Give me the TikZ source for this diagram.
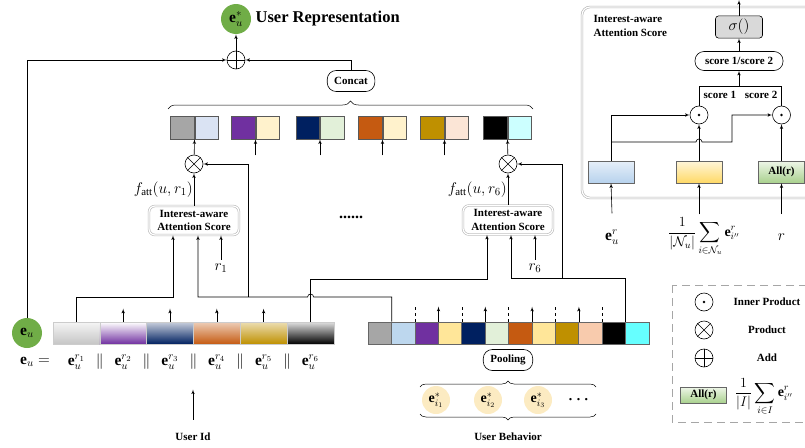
\RequirePackage{fix-cm}
\documentclass[tikz,border=0pt]{standalone}
\usepackage{amsmath}
\usepackage{fontspec}
\setmainfont{Liberation Serif}
\usetikzlibrary{shapes,arrows,decorations.pathreplacing}
\definecolor{ugreen}{HTML}{70AD47}
\definecolor{ugray}{HTML}{A6A6A6}
\definecolor{upurple}{HTML}{7030A0}
\definecolor{unavy}{HTML}{002060}
\definecolor{uorange}{HTML}{C55A11}
\definecolor{ugold}{HTML}{BF9000}
\definecolor{ltblue}{HTML}{DAE3F3}
\definecolor{ltyellow}{HTML}{FFF2CC}
\definecolor{ltgreen}{HTML}{E2F0D9}
\definecolor{ltpeach}{HTML}{FBE5D6}
\definecolor{ltcyan}{HTML}{CCFFFF}
\definecolor{bblue}{HTML}{BDD7EE}
\definecolor{byellow}{HTML}{FFE699}
\definecolor{bpeach}{HTML}{F8CBAD}
\definecolor{bcyan}{HTML}{66FFFF}
\definecolor{ucream}{HTML}{FCEBC2}
\definecolor{pblueA}{HTML}{E6EFF9}
\definecolor{pblueB}{HTML}{B7D2ED}
\definecolor{pyelA}{HTML}{FFF6DA}
\definecolor{pyelB}{HTML}{FFD966}
\definecolor{pgrnA}{HTML}{EEF6E8}
\definecolor{pgrnB}{HTML}{A9D18E}
\newcommand{\lblfont}{\fontsize{11}{13.5}\selectfont\bfseries}
\newcommand{\eqfont}{\fontsize{15.5}{18}\selectfont}
\newcommand{\frmfont}{\fontsize{14}{16.5}\selectfont}
\newcommand{\embpair}[4]{
	\node [cell, fill=#3, anchor=east] (#1a) at (#2,127.5) {};
	\node [cell, fill=#4, anchor=west] (#1b) at (#2,127.5) {};}
\newcommand{\opadd}[2]{
	\node [opnode] (#1) at (#2) {};
	\draw (#1.north) -- (#1.south) (#1.west) -- (#1.east);}
\newcommand{\opmul}[2]{
	\node [opnode] (#1) at (#2) {};
	\draw (#1.north west) -- (#1.south east) (#1.north east) -- (#1.south west);}
\newcommand{\opdot}[2]{
	\node [opnode] (#1) at (#2) {};
	\fill (#1.center) circle (1.3pt);}

\begin{document}
\begin{tikzpicture}[>=latex',x=1pt,y=-1pt,line width=0.6pt,
	cell/.style={draw=black!65, minimum width=23.5pt, minimum height=23pt, inner sep=0pt},
	seg/.style={draw=gray!40, minimum width=46.8pt, minimum height=22pt, inner sep=0pt},
	bcell/.style={draw=black!60, minimum width=23.4pt, minimum height=22pt, inner sep=0pt},
	opnode/.style={draw, circle, minimum size=18pt, inner sep=0pt},
	iabox/.style={draw=gray!55, double=white, double distance=1.2pt, rounded corners=6pt, fill=white, align=center, font=\lblfont, minimum width=90pt, minimum height=29pt, inner sep=1pt},
	pill/.style={draw, rounded corners=9pt, fill=white, font=\lblfont, minimum height=21pt, inner xsep=7pt},
	embnode/.style={circle, fill=ugreen, minimum size=30pt, inner sep=0pt, font=\eqfont},
	itemnode/.style={circle, fill=ucream, minimum size=28pt, inner sep=0pt, font=\frmfont},
	panelbox/.style={draw=black!60, minimum width=46pt, minimum height=22pt, inner sep=0pt, font=\lblfont}]
	\clip (0,0) rectangle (805,447);
	% output side
	\node [embnode] (eustar) at (236,19) {$\mathbf{e}^{*}_{u}$};
	\node [anchor=west, font=\fontsize{16.5}{19}\selectfont\bfseries] (title) at (252,19) {User Representation};
	\opadd{add}{236,60}
	\node [pill] (concat) at (351,81) {Concat};
	\draw [->] (add) -- (eustar);
	\draw [->] (concat.north) |- (add.east);
	\draw [decorate, decoration={brace, amplitude=8pt}, line width=0.5pt] (168,109) -- (533,109);
	\embpair{p1}{194.5}{ugray}{ltblue}
	\embpair{p2}{255.5}{upurple}{ltyellow}
	\embpair{p3}{320}{unavy}{ltgreen}
	\embpair{p4}{382.5}{uorange}{ltyellow}
	\embpair{p5}{444.5}{ugold}{ltpeach}
	\embpair{p6}{507.5}{black}{ltcyan}
	\foreach \p in {p2,p3,p4,p5}
		\draw [->] (\p a.south east) ++(0,16) -- (\p a.south east);
	\opmul{mul1}{194,164}
	\opmul{mul6}{508,164}
	\node [iabox] (ias1) at (194,220.5) {Interest-aware\\Attention Score};
	\node [iabox] (ias6) at (508,220) {Interest-aware\\Attention Score};
	\draw [->] (mul1) -- (p1a.south east);
	\draw [->] (mul6) -- (p6a.south east);
	\draw [->] (ias1) -- node [left, inner sep=1pt, font=\eqfont] {$f_{\mathrm{att}}(u,r_1)$} (mul1);
	\draw [->] (ias6) -- node [left, inner sep=1pt, font=\eqfont] {$f_{\mathrm{att}}(u,r_6)$} (mul6);
	\node [font=\fontsize{16}{19}\selectfont\bfseries] (skip) at (351,217) {......};
	\node [font=\eqfont] (r1) at (221,268) {$r_1$};
	\node [font=\eqfont] (r6) at (535,268) {$r_6$};
	\draw [->] (r1.north) -- (r1.north |- ias1.south);
	\draw [->] (r6.north) -- (r6.north |- ias6.south);
	% user id embedding
	\foreach \tc/\bc [count=\i] in {gray!8/gray!45, white/upurple, unavy!22/unavy, uorange!30/uorange, ugold!30/ugold, gray!25/black}
		\node [seg, top color=\tc, bottom color=\bc] (s\i) at ({76.4+(\i-1)*46.8},333) {};
	\foreach \i in {2,...,5}
		\draw [->] (s\i.north) -- ++(0,-13);
	\node [embnode] (eu) at (27,333) {$\mathbf{e}_{u}$};
	\draw [->] (eu) |- (add.west);
	\node [font=\eqfont, inner sep=0pt] (eueq) at (35,362) {$\mathbf{e}_{u}=$};
	\foreach \i in {1,...,6}
		\node [font=\eqfont, inner sep=0pt] (er\i) at ({76.4+(\i-1)*46.8},362) {$\mathbf{e}^{r_{\i}}_{u}$};
	\foreach \i in {1,...,5}
		\node [font=\eqfont, inner sep=0pt] (bar\i) at ({99.8+(\i-1)*46.8},362) {$\|$};
	\node [font=\lblfont] (uid) at (193,437) {User Id};
	\draw [->] (uid.north) ++(0,-10) -- ++(0,-30);
	% user behaviour
	\foreach \c [count=\i] in {ugray,bblue,upurple,byellow,unavy,ltgreen,uorange,byellow,ugold,bpeach,black,bcyan}
		\node [bcell, fill=\c] (b\i) at ({379.7+(\i-1)*23.4},333) {};
	\foreach \i in {2,4,...,10}
		\draw [dashed, line width=0.5pt] (b\i.north east) -- ++(0,-15);
	\foreach \i in {3,5,7,9}
		\draw [->] (b\i.north east) -- ++(0,-15);
	\node [pill] (pool) at (508,360) {Pooling};
	\draw [decorate, decoration={brace, amplitude=6pt}, line width=0.5pt] (420,387) -- (596,387);
	\draw [decorate, decoration={brace, amplitude=6pt, mirror}, line width=0.5pt] (420,414) -- (596,414);
	\foreach \px [count=\i] in {436,488,538}
		\node [itemnode] (it\i) at (\px,400) {$\mathbf{e}^{*}_{i_{\i}}$};
	\node [font=\eqfont] (itdots) at (580,400) {$\boldsymbol{\cdots}$};
	\node [font=\lblfont] (ubeh) at (508,437) {User Behavior};
	% wiring to the score boxes
	\coordinate (j1) at (173,297);
	\coordinate (j2) at (198,297);
	\coordinate (j3) at (248,297);
	\coordinate (j4) at (487,279);
	\coordinate (j5) at (511,278);
	\coordinate (j6) at (562,278);
	\draw [->] (s1.north) |- (j1) -- (j1 |- ias1.south);
	\draw [->] (b1.north east) |- (313.6,297) arc (0:-180:3) -- (j2) -- (j2 |- ias1.south);
	\draw [->] (j3) |- (mul1.east);
	\draw [->] (s6.north) |- (j4) -- (j4 |- ias6.south);
	\draw [->] (b11.north east) |- (j5) -- (j5 |- ias6.south);
	\draw [->] (j6) |- (mul6.east);
	% attention score panel
	\draw [draw=gray!60, double=white, double distance=1.2pt, rounded corners=8pt] (582,7) rectangle (830,198);
	\node [font=\lblfont, align=left, anchor=north west] (pnltitle) at (590,12) {Interest-aware\\Attention Score};
	\node [draw, fill=gray!30, rounded corners=3pt, minimum width=47pt, minimum height=19pt, font=\eqfont] (sig) at (739,27) {$\sigma()$};
	\node [pill, minimum width=88pt, minimum height=19pt] (score) at (739,61) {score 1/score 2};
	\opdot{dot1}{699,115}
	\opdot{dot2}{781.5,115}
	\node [panelbox, top color=pblueA, bottom color=pblueB] (pnlu) at (611,172) {};
	\node [panelbox, top color=pyelA, bottom color=pyelB] (pnln) at (699,172) {};
	\node [panelbox, top color=pgrnA, bottom color=pgrnB] (pnlr) at (781.5,172) {All(r)};
	\node [font=\eqfont] (lblu) at (612,237) {$\mathbf{e}^{r}_{u}$};
	\node [font=\frmfont] (lbln) at (704,237) {$\displaystyle\frac{1}{|\mathcal{N}_u|}\sum_{i\in\mathcal{N}_u}\mathbf{e}^{r}_{i''}$};
	\node [font=\eqfont] (lblr) at (781.5,237) {$r$};
	\draw [->] (lblu.north) ++(0,-13) -- (pnlu.south);
	\draw [->] (lbln.north -| pnln.south) -- (pnln.south);
	\draw [->] (lblr.north) ++(0,-16) -- (pnlr.south);
	\coordinate (k1) at (611,142);
	\coordinate (k2) at (739,86);
	\coordinate (k3) at (732,142);
	\coordinate (out) at (739,0);
	\draw [->] (pnlu.north) |- (dot1.west);
	\draw [->] (k1) -- (696,142) arc (180:360:3) -- (k3) |- (dot2.west);
	\draw [->] (pnln) -- (dot1);
	\draw [->] (pnlr) -- (dot2);
	\draw (dot1.north) |- (dot2.north |- k2) -- (dot2.north);
	\draw [->] (k2) -- (score.south);
	\draw [->] (score) -- (sig);
	\draw [->] (sig.north) -- (out);
	\node [font=\lblfont, anchor=west] (sc1) at (700,95) {score 1};
	\node [font=\lblfont, anchor=east] (sc2) at (781,95) {score 2};
	% legend
	\draw [draw=gray!70, dash pattern=on 8pt off 5pt, line width=0.8pt] (672,285) rectangle (830,422);
	\opdot{lgdot}{704,302}
	\opmul{lgmul}{704,330}
	\opadd{lgadd}{704,358}
	\node [font=\lblfont] (lgt1) at (767,302) {Inner Product};
	\node [font=\lblfont] (lgt2) at (767,330) {Product};
	\node [font=\lblfont] (lgt3) at (767,358) {Add};
	\node [panelbox, top color=pgrnA, bottom color=pgrnB, minimum height=16pt] (lgall) at (703.5,395) {All(r)};
	\node [font=\frmfont] (lgfrm) at (764,397) {$\displaystyle\frac{1}{|I|}\sum_{i\in I}\mathbf{e}^{r}_{i''}$};
\end{tikzpicture}
\end{document}
